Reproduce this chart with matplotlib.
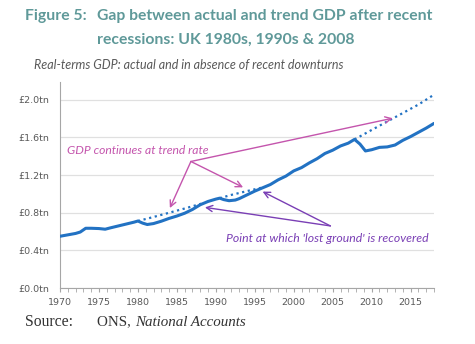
import matplotlib.pyplot as plt
import numpy as np
from matplotlib.ticker import MultipleLocator, FuncFormatter

# real-terms GDP, £tn
years = [1970.0, 1971.0, 1972.0, 1972.6, 1973.3, 1974.0, 1975.0, 1975.8, 1976.5,
         1977.5, 1978.5, 1979.5, 1980.0, 1980.6, 1981.2, 1982.0, 1983.0, 1984.0,
         1985.0, 1986.0, 1987.0, 1988.0, 1989.0, 1990.0, 1990.5, 1991.0, 1991.7,
         1992.5, 1993.0, 1994.0, 1995.0, 1996.0, 1997.0, 1998.0, 1999.0, 2000.0,
         2001.0, 2002.0, 2003.0, 2004.0, 2005.0, 2006.0, 2007.0, 2007.8, 2008.5,
         2009.2, 2010.0, 2011.0, 2012.0, 2013.0, 2014.0, 2015.0, 2016.0, 2017.0,
         2018.0]
gdp = [0.550, 0.565, 0.580, 0.595, 0.635, 0.635, 0.632, 0.625, 0.640,
       0.660, 0.680, 0.700, 0.712, 0.690, 0.675, 0.685, 0.710, 0.740,
       0.765, 0.795, 0.835, 0.885, 0.920, 0.945, 0.955, 0.940, 0.928,
       0.935, 0.950, 0.990, 1.030, 1.065, 1.100, 1.150, 1.190, 1.245,
       1.280, 1.330, 1.375, 1.430, 1.465, 1.510, 1.540, 1.580, 1.530,
       1.457, 1.470, 1.495, 1.500, 1.520, 1.570, 1.610, 1.655, 1.700,
       1.750]

# trend paths had the downturns not happened
trend80_years = [1980.0, 1982.0, 1984.0, 1986.0, 1988.5]
trend80 = [0.712, 0.755, 0.800, 0.845, 0.905]
trend90_years = [1990.5, 1992.0, 1994.0, 1995.8]
trend90 = [0.955, 0.990, 1.030, 1.065]
trend08_years = [2007.8, 2010.0, 2012.0, 2014.0, 2016.0, 2018.0]
trend08 = [1.580, 1.680, 1.770, 1.860, 1.950, 2.055]

BLUE = '#2272c3'
PINK = '#c455ad'
PURPLE = '#7a3fb5'
TEAL = '#5f9999'
GREY = '#595959'


def main():
    fig = plt.figure(figsize=(4.75, 3.44), dpi=100)
    ax = fig.add_axes([60/475, 1-288/344, 374/475, 206/344])

    ax.plot(years, gdp, color=BLUE, lw=2.2, solid_capstyle='round', zorder=3)
    for ty, tv in [(trend80_years, trend80), (trend90_years, trend90),
                   (trend08_years, trend08)]:
        ax.plot(ty, tv, color=BLUE, lw=1.6, linestyle=(0, (1, 1.6)), zorder=2)

    ax.set_xlim(1970, 2018)
    ax.set_ylim(0, 2.19)
    ax.set_yticks(np.arange(0, 2.01, 0.4))
    ax.yaxis.set_major_formatter(FuncFormatter(lambda v, p: '£%.1ftn' % v))
    ax.set_xticks(range(1970, 2016, 5))
    ax.xaxis.set_minor_locator(MultipleLocator(1))
    ax.grid(axis='y', color='#e0e0e0', lw=0.9)
    ax.set_axisbelow(True)
    for s in ['top', 'right']:
        ax.spines[s].set_visible(False)
    ax.spines['left'].set_color('#a6a6a6')
    ax.spines['bottom'].set_color('#a6a6a6')
    ax.tick_params(axis='y', length=0, labelsize=6.8, labelcolor=GREY, pad=8)
    ax.tick_params(axis='x', which='both', length=3, color='#a6a6a6',
                   labelsize=6.8, labelcolor=GREY, pad=4)

    # annotations
    ax.text(1970.9, 1.465, 'GDP continues at trend rate', color=PINK,
            fontsize=8.7, style='italic', family='Lato', va='center')
    src = (1986.8, 1.345)
    for dst in [(1984.1, 0.85), (1993.5, 1.07), (2012.7, 1.805)]:
        ax.annotate('', xy=dst, xytext=src,
                    arrowprops=dict(arrowstyle='->', color=PINK, lw=1.0,
                                    mutation_scale=11, shrinkA=0, shrinkB=0))
    ax.text(1991.3, 0.53, "Point at which 'lost ground' is recovered",
            color=PURPLE, fontsize=8.8, style='italic', family='Lato',
            va='center')
    src = (2004.7, 0.66)
    for dst in [(1988.6, 0.857), (1996.0, 1.025)]:
        ax.annotate('', xy=dst, xytext=src,
                    arrowprops=dict(arrowstyle='->', color=PURPLE, lw=1.0,
                                    mutation_scale=11, shrinkA=0, shrinkB=0))

    # heading, subtitle and source
    fig.text(25/475, 1-16/344, 'Figure 5:', color=TEAL, fontsize=11.3,
             weight='bold', family='Lato', va='center')
    fig.text(97/475, 1-16/344, 'Gap between actual and trend GDP after recent',
             color=TEAL, fontsize=11.3, weight='bold', family='Lato', va='center')
    fig.text(97/475, 1-40/344, 'recessions: UK 1980s, 1990s & 2008',
             color=TEAL, fontsize=11.3, weight='bold', family='Lato', va='center')
    fig.text(34/475, 1-65/344,
             'Real-terms GDP: actual and in absence of recent downturns',
             color=GREY, fontsize=9.0, style='italic', family='Lato',
             va='center')
    fig.text(25/475, 1-322/344, 'Source:', color='#333333', fontsize=11.3,
             family='Liberation Serif', va='center')
    t = fig.text(97/475, 1-322/344, 'ONS, ', color='#333333', fontsize=10.8,
                 family='Liberation Serif', va='center')
    fig.canvas.draw()
    bb = t.get_window_extent()
    fig.text(bb.x1/fig.bbox.width, 1-322/344, 'National Accounts',
             color='#333333', fontsize=10.8, family='Liberation Serif',
             style='italic', va='center')

    plt.savefig('out.png', dpi=100)


if __name__ == "__main__":
    main()
